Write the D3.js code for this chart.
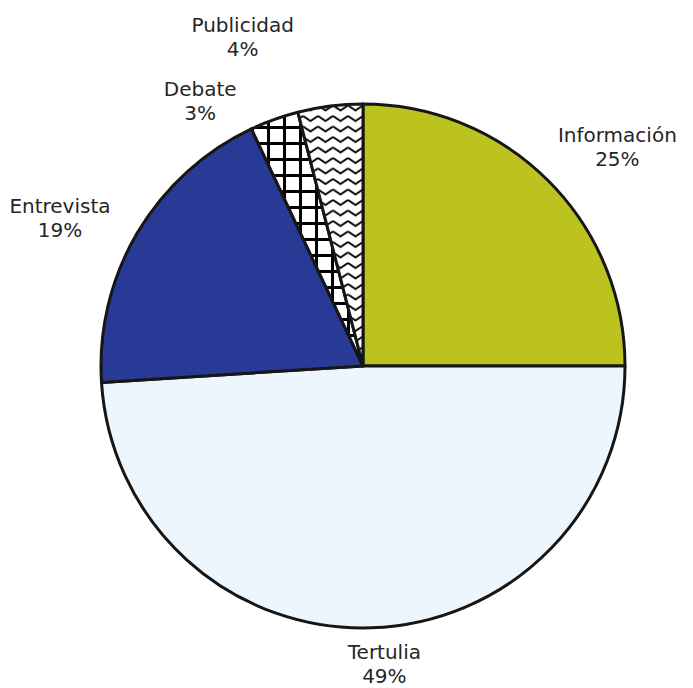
<!DOCTYPE html>
<html>
<head>
<meta charset="utf-8">
<script src="https://cdn.jsdelivr.net/npm/d3@7"></script>
<style>
  body { margin: 0; background: #fff; }
  text { font-family: "DejaVu Sans", Verdana, sans-serif; }
</style>
</head>
<body>
<svg id="chart" width="693" height="688"></svg>
<script>
// Données du graphique
const categories = ["Información", "Tertulia", "Entrevista", "Debate", "Publicidad"];
const values = [25, 49, 19, 3, 4];
const fills = ["#bcc31f", "#eef6fd", "#283a96", "url(#grid)", "url(#zigzag)"];

// Petits décalages des étiquettes (placement "best fit" du tableur)
const labelNudge = [[21, 9], [11, -37], [-19, 15], [-51, 40], [-79, -7]];

const width = 693, height = 688;
const cx = 363, cy = 366, radius = 262, labelRadius = 330;

const svg = d3.select("#chart");

// Motifs de remplissage
const defs = svg.append("defs");

const grid = defs.append("pattern")
    .attr("id", "grid")
    .attr("patternUnits", "userSpaceOnUse")
    .attr("width", 16)
    .attr("height", 16);
grid.append("rect").attr("width", 16).attr("height", 16).attr("fill", "#fff");
grid.append("path")
    .attr("d", "M1.5,0V16M0,1.5H16")
    .attr("stroke", "#000")
    .attr("stroke-width", 3);

const zigzag = defs.append("pattern")
    .attr("id", "zigzag")
    .attr("patternUnits", "userSpaceOnUse")
    .attr("width", 15)
    .attr("height", 10.5);
zigzag.append("rect").attr("width", 15).attr("height", 10.5).attr("fill", "#fff");
zigzag.append("path")
    .attr("d", "M0,2L7.5,7L15,2")
    .attr("fill", "none")
    .attr("stroke", "#000")
    .attr("stroke-width", 2);

const data = categories.map((c, i) => ({ name: c, value: values[i], fill: fills[i], nudge: labelNudge[i] }));

const pie = d3.pie()
    .value(d => d.value)
    .sort(null);

const arcs = pie(data);

const arc = d3.arc()
    .innerRadius(0)
    .outerRadius(radius);

const labelArc = d3.arc()
    .innerRadius(labelRadius)
    .outerRadius(labelRadius);

const g = svg.append("g")
    .attr("transform", `translate(${cx},${cy})`);

g.selectAll("path.slice")
    .data(arcs)
    .join("path")
    .attr("class", "slice")
    .attr("d", arc)
    .attr("fill", d => d.data.fill)
    .attr("stroke", "#161616")
    .attr("stroke-width", 3)
    .attr("stroke-linejoin", "round");

// Étiquettes : nom + pourcentage
const total = d3.sum(values);

const labels = g.selectAll("text.label")
    .data(arcs)
    .join("text")
    .attr("class", "label")
    .attr("text-anchor", "middle")
    .attr("font-size", 20)
    .attr("fill", "#262626")
    .attr("transform", d => {
        const [x, y] = labelArc.centroid(d);
        return `translate(${x + d.data.nudge[0]},${y + d.data.nudge[1]})`;
    });

labels.append("tspan")
    .attr("x", 0)
    .attr("y", 0)
    .text(d => d.data.name);

labels.append("tspan")
    .attr("x", 0)
    .attr("dy", 24)
    .text(d => `${Math.round(d.data.value / total * 100)}%`);
</script>
</body>
</html>
